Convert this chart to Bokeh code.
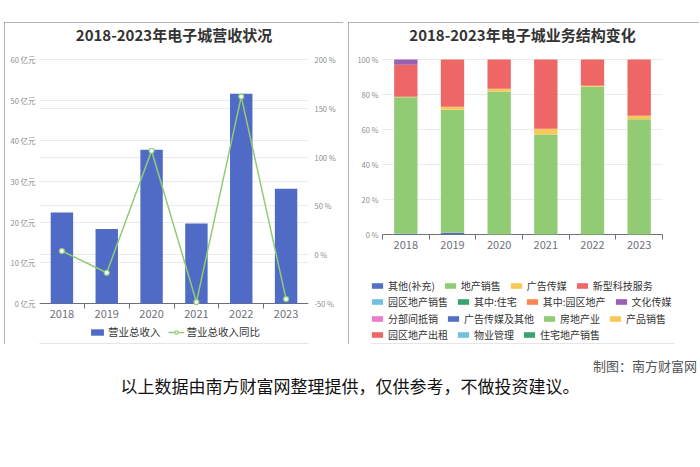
from bokeh.plotting import figure
from bokeh.models import (Range1d, FactorRange, LinearAxis, FixedTicker, PrintfTickFormatter,
                          Grid, Legend, LegendItem, ColumnDataSource, Div, Spacer, Label)
from bokeh.core.properties import value
from bokeh.layouts import column, row
from bokeh.embed import file_html
from bokeh.resources import INLINE

FONT = "Noto Sans CJK SC"

# ---------------- data ----------------
years = ["2018", "2019", "2020", "2021", "2022", "2023"]
revenue = [22.4, 18.3, 37.8, 19.7, 51.6, 28.2]          # 亿元
revenue_yoy = [3.8, -18.5, 106.5, -48.5, 162.0, -45.5]  # %
revenue_ticks = [0, 10, 20, 30, 40, 50, 60]
yoy_ticks = [-50, 0, 50, 100, 150, 200]

segment_names = ["其他(补充)", "地产销售", "广告传媒", "新型科技服务",
                 "园区地产销售", "其中:住宅", "其中:园区地产", "文化传媒",
                 "分部间抵销", "广告传媒及其他", "房地产业", "产品销售",
                 "园区地产出租", "物业管理", "住宅地产销售"]
segment_colors = ["#5470c6", "#91cc75", "#fac858", "#ee6666",
                  "#73c0de", "#3ba272", "#fc8452", "#9a60b4",
                  "#ea7ccc", "#5470c6", "#91cc75", "#fac858",
                  "#ee6666", "#73c0de", "#3ba272"]
seg_other = [0.4, 1.0, 0, 0, 0, 0]
seg_property_sales = [78.0, 70.3, 81.7, 57.1, 84.4, 65.9]
seg_ads = [0.3, 1.7, 1.6, 3.3, 0.6, 1.9]
seg_tech = [18.3, 27.0, 16.7, 39.6, 15.0, 32.2]
seg_park_sales = [0, 0, 0, 0, 0, 0]
seg_residential = [0, 0, 0, 0, 0, 0]
seg_park = [0, 0, 0, 0, 0, 0]
seg_culture = [3.0, 0, 0, 0, 0, 0]
seg_elim = [0, 0, 0, 0, 0, 0]
seg_ads_other = [0, 0, 0, 0, 0, 0]
seg_real_estate = [0, 0, 0, 0, 0, 0]
seg_products = [0, 0, 0, 0, 0, 0]
seg_park_rent = [0, 0, 0, 0, 0, 0]
seg_property_mgmt = [0, 0, 0, 0, 0, 0]
seg_res_sales = [0, 0, 0, 0, 0, 0]
segment_values = [seg_other, seg_property_sales, seg_ads, seg_tech,
                  seg_park_sales, seg_residential, seg_park, seg_culture,
                  seg_elim, seg_ads_other, seg_real_estate, seg_products,
                  seg_park_rent, seg_property_mgmt, seg_res_sales]
share_ticks = [0, 20, 40, 60, 80, 100]
legend_rows = [[0, 1, 2, 3], [4, 5, 6, 7], [8, 9, 10, 11], [12, 13, 14]]

BAR_COLOR = "#4f6bc6"
LINE_COLOR = "#91cc75"
GRID_COLOR = "#ebebeb"
LABEL_COLOR = "#8c8c8c"
AXIS_COLOR = "#6e7079"
PANEL_STYLE = {"outline": "1px solid #9a9a9a", "outline-offset": "-1px"}

# layout geometry (pixels)
PANEL_H = 322
FRAME_H = PANEL_H - 2          # frame spans panel except 1px top / bottom
# left chart: value axis from 303px (bottom) to 59px (top) inside a frame 23..343
L_BOTTOM_GAP, L_PLOT_H, L_TOP_GAP = 40, 244, 36
# right chart: 0 % at 234px, 100 % at 59px
R_BOTTOM_GAP, R_PLOT_H, R_TOP_GAP = 109, 175, 36


def extend(lo, hi, plot_h, bottom_gap, top_gap):
    per_px = (hi - lo) / plot_h
    return lo - bottom_gap * per_px, hi + top_gap * per_px


def style_yaxis(ax, standoff):
    ax.axis_line_color = None
    ax.major_tick_line_color = None
    ax.minor_tick_line_color = None
    ax.major_tick_out = 0
    ax.major_tick_in = 0
    ax.minor_tick_out = 0
    ax.major_label_standoff = standoff
    ax.major_label_text_font = FONT
    ax.major_label_text_font_size = "7.5px"
    ax.major_label_text_color = LABEL_COLOR


def base_figure(width, x_range, y_range, left, right):
    p = figure(width=width, height=PANEL_H, x_range=x_range, y_range=y_range,
               x_axis_location=None, output_backend="svg", toolbar_location=None,
               min_border_left=left, min_border_right=right,
               min_border_top=1, min_border_bottom=1, styles=PANEL_STYLE)
    p.outline_line_color = None
    p.background_fill_color = "white"
    p.border_fill_color = "white"
    p.xgrid.visible = False
    p.ygrid.grid_line_color = GRID_COLOR
    return p


def add_title(p, text, frame_w):
    p.add_layout(Label(x=frame_w / 2, y=FRAME_H - 11, x_units="screen", y_units="screen",
                       text=text, text_align="center", text_baseline="middle",
                       text_font=FONT, text_font_size="15px", text_font_style="bold",
                       text_color="#333333"))


def add_x_axis(p, src, tick_len):
    # axis line + boundary ticks + category labels
    p.add_layout(Grid(dimension=1, ticker=FixedTicker(ticks=[0]),
                      cross_bounds=(0, len(years)), grid_line_color=AXIS_COLOR))
    p.add_layout(Grid(dimension=0, ticker=FixedTicker(ticks=list(range(len(years) + 1))),
                      cross_bounds=(-tick_len, 0), grid_line_color=AXIS_COLOR))
    p.text(x="year", y=0, text="year", source=src, y_offset=10,
           text_align="center", text_baseline="middle",
           text_font=value(FONT), text_font_size=value("11px"), text_color=AXIS_COLOR)


# ---------------- left chart ----------------
l_lo, l_hi = extend(revenue_ticks[0], revenue_ticks[-1], L_PLOT_H, L_BOTTOM_GAP, L_TOP_GAP)
p_lo, p_hi = extend(yoy_ticks[0], yoy_ticks[-1], L_PLOT_H, L_BOTTOM_GAP, L_TOP_GAP)
p1 = base_figure(339, FactorRange(factors=years), Range1d(l_lo, l_hi), 35, 35)
p1.yaxis.ticker = FixedTicker(ticks=revenue_ticks)
p1.yaxis.formatter = PrintfTickFormatter(format="%d 亿元")
style_yaxis(p1.yaxis[0], 4)
p1.ygrid.ticker = FixedTicker(ticks=revenue_ticks)

p1.extra_y_ranges = {"pct": Range1d(p_lo, p_hi)}
pct_ticker = FixedTicker(ticks=yoy_ticks)
ax_r = LinearAxis(y_range_name="pct", ticker=pct_ticker,
                  formatter=PrintfTickFormatter(format="%d %%"))
style_yaxis(ax_r, 6)
p1.add_layout(ax_r, "right")
p1.add_layout(Grid(dimension=1, ticker=pct_ticker, y_range_name="pct",
                   grid_line_color=GRID_COLOR))

src1 = ColumnDataSource(dict(year=years, revenue=revenue, yoy=revenue_yoy))
bars = p1.vbar(x="year", top="revenue", width=0.5, source=src1,
               fill_color=BAR_COLOR, line_color=None)
add_x_axis(p1, src1, 5 * (l_hi - l_lo) / FRAME_H)
line_r = p1.line(x="year", y="yoy", source=src1, y_range_name="pct",
                 line_color=LINE_COLOR, line_width=1.5)
pts = p1.scatter(x="year", y="yoy", source=src1, y_range_name="pct",
                 marker="circle", size=5, fill_color="white",
                 line_color=LINE_COLOR, line_width=1.2)
add_title(p1, "2018-2023年电子城营收状况", 339 - 70)

leg1 = Legend(items=[LegendItem(label="营业总收入", renderers=[bars]),
                     LegendItem(label="营业总收入同比", renderers=[line_r, pts])],
              orientation="horizontal", location=(50, 4),
              glyph_width=16, glyph_height=8, label_height=12, label_standoff=3,
              spacing=7, padding=0, margin=0, border_line_color=None,
              background_fill_alpha=0, label_text_font=FONT,
              label_text_font_size="10.5px", label_text_color="#333333")
p1.add_layout(leg1)

# ---------------- right chart ----------------
r_lo, r_hi = extend(share_ticks[0], share_ticks[-1], R_PLOT_H, R_BOTTOM_GAP, R_TOP_GAP)
P2_W, P2_LEFT, P2_RIGHT = 351, 22, 25
pad_units = 12 / ((P2_W - P2_LEFT - P2_RIGHT - 24) / len(years))
p2 = base_figure(P2_W, FactorRange(factors=years, range_padding=pad_units,
                                   range_padding_units="absolute"),
                 Range1d(r_lo, r_hi), P2_LEFT, P2_RIGHT)
p2.yaxis.ticker = FixedTicker(ticks=share_ticks)
p2.yaxis.formatter = PrintfTickFormatter(format="%d %%")
style_yaxis(p2.yaxis[0], -8)
p2.ygrid.ticker = FixedTicker(ticks=share_ticks)
p2.ygrid.cross_bounds = (0, len(years))

keys = ["s%d" % i for i in range(len(segment_names))]
data2 = {"year": years}
for k, vals in zip(keys, segment_values):
    data2[k] = vals
src2 = ColumnDataSource(data2)
stack_r = p2.vbar_stack(keys, x="year", width=0.5, source=src2,
                        fill_color=segment_colors, line_color=None)
add_x_axis(p2, src2, 5 * (r_hi - r_lo) / FRAME_H)
add_title(p2, "2018-2023年电子城业务结构变化", P2_W - P2_LEFT - P2_RIGHT)

for i, idxs in enumerate(legend_rows):
    lg = Legend(items=[LegendItem(label=segment_names[j], renderers=[stack_r[j]]) for j in idxs],
                orientation="horizontal", location=(0, 50 - 16.4 * i),
                glyph_width=14, glyph_height=7, label_height=12, label_standoff=4,
                spacing=8, padding=0, margin=0, border_line_color=None,
                background_fill_alpha=0, label_text_font=FONT,
                label_text_font_size="10px", label_text_color="#333333")
    p2.add_layout(lg)

# ---------------- footer ----------------
credit = Div(text='<div style="width:697px;text-align:right;font-size:13px;color:#555;'
                  'font-family:\'Noto Sans CJK SC\';line-height:22px;">制图：南方财富网</div>',
             width=700, height=22, margin=0)
note = Div(text='<div style="width:700px;text-align:center;font-size:17px;color:#111;'
                'font-family:\'Noto Sans CJK SC\';line-height:18px;">'
                '以上数据由南方财富网整理提供，仅供参考，不做投资建议。</div>',
           width=700, height=18, margin=0)

layout = column(Spacer(width=700, height=22),
                row(Spacer(width=4, height=PANEL_H), p1, Spacer(width=5, height=PANEL_H), p2),
                Spacer(width=700, height=11),
                credit, note)

open("out.html", "w").write(file_html(layout, INLINE))
